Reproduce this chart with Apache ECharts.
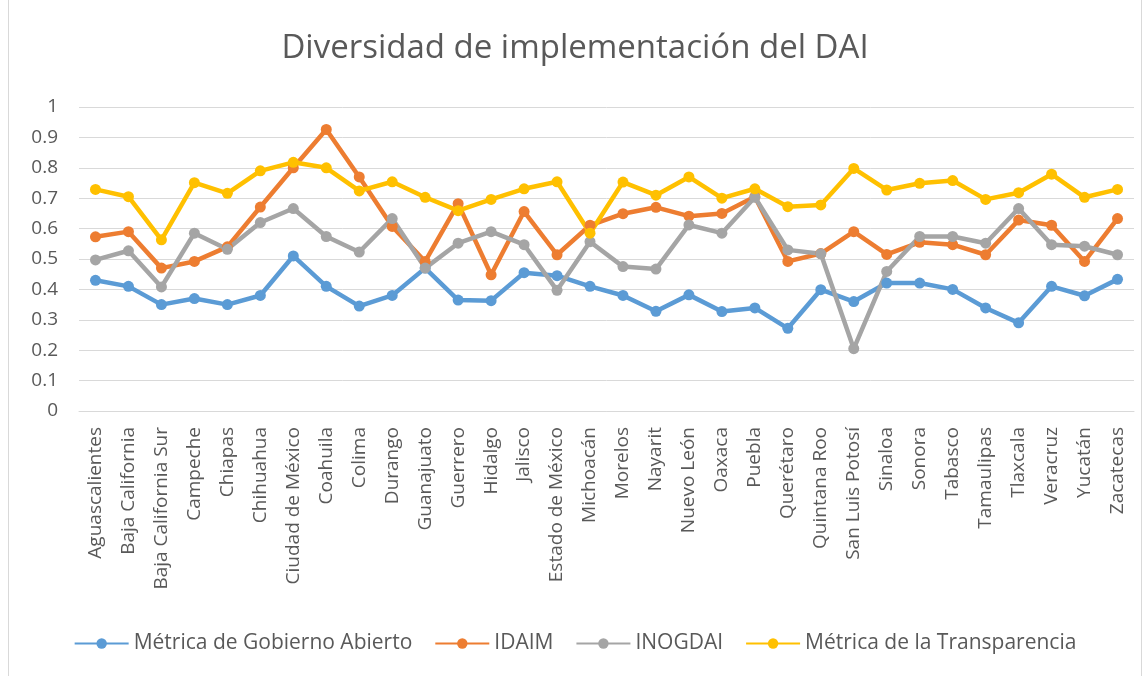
<!DOCTYPE html>
<html>
<head>
<meta charset="utf-8">
<script src="https://cdn.jsdelivr.net/npm/echarts@6/dist/echarts.min.js"></script>
<style>
html, body { margin: 0; padding: 0; background: #fff; }
#main { position: absolute; left: 8px; top: 0; width: 1134px; height: 676px; border-left: 1px solid #d9d9d9; border-right: 1px solid #d9d9d9; box-sizing: border-box; }
</style>
</head>
<body>
<div id="main"></div>
<script>
var estados = ['Aguascalientes', 'Baja California', 'Baja California Sur', 'Campeche', 'Chiapas', 'Chihuahua',
  'Ciudad de México', 'Coahuila', 'Colima', 'Durango', 'Guanajuato', 'Guerrero', 'Hidalgo', 'Jalisco',
  'Estado de México', 'Michoacán', 'Morelos', 'Nayarit', 'Nuevo León', 'Oaxaca', 'Puebla', 'Querétaro',
  'Quintana Roo', 'San Luis Potosí', 'Sinaloa', 'Sonora', 'Tabasco', 'Tamaulipas', 'Tlaxcala', 'Veracruz',
  'Yucatán', 'Zacatecas'];

var gobiernoAbierto = [0.43, 0.41, 0.35, 0.37, 0.35, 0.38, 0.51, 0.41, 0.345, 0.38, 0.47, 0.365, 0.363, 0.455,
  0.445, 0.41, 0.38, 0.328, 0.382, 0.327, 0.339, 0.272, 0.399, 0.36, 0.421, 0.421, 0.40, 0.339, 0.29, 0.41,
  0.379, 0.433];
var idaim = [0.573, 0.59, 0.47, 0.492, 0.54, 0.671, 0.80, 0.926, 0.77, 0.607, 0.492, 0.682, 0.448, 0.656,
  0.514, 0.611, 0.649, 0.67, 0.641, 0.65, 0.705, 0.492, 0.518, 0.59, 0.515, 0.555, 0.547, 0.514, 0.628, 0.611,
  0.492, 0.633];
var inogdai = [0.497, 0.527, 0.408, 0.585, 0.532, 0.62, 0.666, 0.574, 0.523, 0.633, 0.47, 0.552, 0.59, 0.547,
  0.397, 0.557, 0.475, 0.467, 0.612, 0.585, 0.703, 0.53, 0.517, 0.205, 0.459, 0.574, 0.574, 0.552, 0.666, 0.547,
  0.542, 0.514];
var transparencia = [0.729, 0.705, 0.563, 0.751, 0.716, 0.79, 0.818, 0.80, 0.724, 0.754, 0.703, 0.659, 0.696,
  0.731, 0.754, 0.585, 0.753, 0.71, 0.77, 0.70, 0.731, 0.672, 0.678, 0.798, 0.727, 0.749, 0.758, 0.696, 0.718,
  0.779, 0.703, 0.729];

var nombres = ['Métrica de Gobierno Abierto', 'IDAIM', 'INOGDAI', 'Métrica de la Transparencia'];
var colores = ['#5B9BD5', '#ED7D31', '#A5A5A5', '#FFC000'];
var valores = [gobiernoAbierto, idaim, inogdai, transparencia];

var fuente = 'Open Sans';
var series = nombres.map(function (n, i) {
  return {
    name: n,
    type: 'line',
    data: valores[i],
    symbol: 'circle',
    symbolSize: 11,
    itemStyle: { color: colores[i] },
    lineStyle: { width: 4.5, color: colores[i] }
  };
});

var chart = echarts.init(document.getElementById('main'));
chart.setOption({
  animation: false,
  textStyle: { fontFamily: fuente },
  title: {
    text: 'Diversidad de implementación del DAI',
    left: 'center',
    top: 27,
    textStyle: { fontFamily: fuente, fontSize: 33, fontWeight: 'normal', color: '#595959' }
  },
  legend: {
    top: 628,
    left: 'center',
    itemWidth: 54,
    itemHeight: 13,
    itemGap: 22,
    textStyle: { fontFamily: fuente, fontSize: 21, color: '#595959' },
    data: nombres
  },
  grid: { left: 70, right: 7, top: 107, bottom: 265, containLabel: false },
  xAxis: {
    type: 'category',
    data: estados,
    boundaryGap: true,
    axisLine: { lineStyle: { color: '#d9d9d9', width: 1 } },
    axisTick: { show: false },
    axisLabel: { rotate: 90, fontFamily: fuente, fontSize: 19, color: '#595959', interval: 0, margin: 16 }
  },
  yAxis: {
    type: 'value',
    min: 0,
    max: 1,
    interval: 0.1,
    axisLine: { show: false },
    axisTick: { show: false },
    axisLabel: { fontFamily: fuente, fontSize: 19, color: '#595959', margin: 21,
      formatter: function (v) { return String(Math.round(v * 10) / 10); } },
    splitLine: { lineStyle: { color: '#d9d9d9', width: 1 } }
  },
  series: series
});
</script>
</body>
</html>
